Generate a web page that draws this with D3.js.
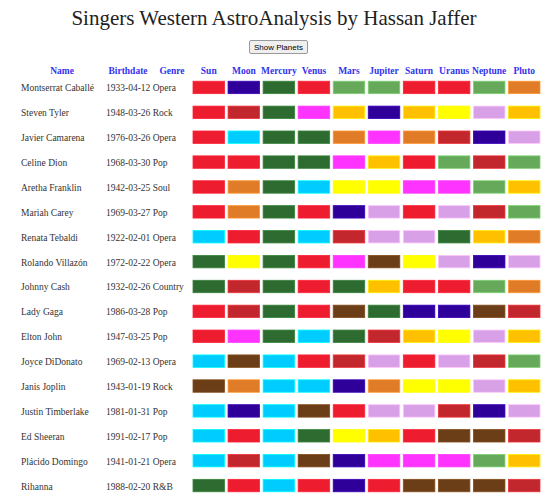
<!DOCTYPE html>
<html><head><meta charset="utf-8">
<script src="https://cdn.jsdelivr.net/npm/d3@7"></script>
<style>
body{margin:0;background:#fff;font-family:"Liberation Serif","Times New Roman",serif;}
#btn{position:absolute;left:249px;top:40px;font-family:"Liberation Sans",Arial,sans-serif;font-size:8px;padding:1px 4px;height:14px;border:1px solid #999;background:#efefef;border-radius:2px;}
svg{position:absolute;left:0;top:0}
</style></head><body>
<button id="btn">Show Planets</button>
<svg id="c" width="549" height="493"></svg>
<script>
const names=["Montserrat Caballé","Steven Tyler","Javier Camarena","Celine Dion","Aretha Franklin","Mariah Carey","Renata Tebaldi","Rolando Villazón","Johnny Cash","Lady Gaga","Elton John","Joyce DiDonato","Janis Joplin","Justin Timberlake","Ed Sheeran","Plácido Domingo","Rihanna"];
const birthdates=["1933-04-12","1948-03-26","1976-03-26","1968-03-30","1942-03-25","1969-03-27","1922-02-01","1972-02-22","1932-02-26","1986-03-28","1947-03-25","1969-02-13","1943-01-19","1981-01-31","1991-02-17","1941-01-21","1988-02-20"];
const genres=["Opera","Rock","Opera","Pop","Soul","Pop","Opera","Opera","Country","Pop","Pop","Opera","Rock","Pop","Pop","Opera","R&B"];
const planets=["Sun","Moon","Mercury","Venus","Mars","Jupiter","Saturn","Uranus","Neptune","Pluto"];
const signs=[
"R B G R LG LG R R LG O","R DR G M Gd B Gd Y L Gd","R C G G O M O DR B L","R R G G M Gd R LG DR LG",
"R O G C Y Y M M LG Gd","R O G R B L R L DR LG","C R G C DR L L G Gd O","G Y G R M Br Y L B L",
"G DR G R G Gd R R LG O","R DR G R Br G B B Br DR","R M G C G DR Gd Y L Gd","C Br C R DR L R L DR LG",
"Br O C C B O Y Y L Gd","C B C Br R L L DR B L","C R C G Y Gd R Br Br DR","C DR C Br B M M M LG Gd",
"G R C R B R Br Br Br DR"].map(s=>s.split(" "));
const codeKeys=["R","DR","G","LG","B","C","O","Y","Gd","M","L","Br"];
const codeColors=["#ed1c2e","#c1272d","#2e6b30","#66a95b","#2e0099","#00ccff","#e07b28","#ffff00","#ffc000","#ff33ff","#d8a0e6","#6b3e17"];
const color=d3.scaleOrdinal(codeKeys,codeColors);
const svg=d3.select("#c");
svg.append("text").attr("x",274).attr("y",25).attr("text-anchor","middle").attr("font-size",21).attr("fill","#222").text("Singers Western AstroAnalysis by Hassan Jaffer");
const x=d3.scaleBand().domain(planets).range([193,540]).paddingInner(0.1).paddingOuter(0);
const y=d3.scaleBand().domain(d3.range(names.length)).range([75,498]).paddingInner(0.5).paddingOuter(0.25);
const hy=74;
const hd=svg.append("g").attr("font-size",9.5).attr("font-weight","bold").attr("fill","#3333ee").attr("text-anchor","middle");
hd.append("text").attr("x",62).attr("y",hy).text("Name");
hd.append("text").attr("x",128).attr("y",hy).text("Birthdate");
hd.append("text").attr("x",172).attr("y",hy).text("Genre");
hd.selectAll(".p").data(planets).join("text").attr("x",d=>x(d)+x.bandwidth()/2).attr("y",hy).text(d=>d);
const rows=svg.selectAll(".row").data(names).join("g").attr("transform",(d,i)=>`translate(0,${y(i)})`);
const ty=y.bandwidth()/2+4;
rows.append("text").attr("x",21).attr("y",ty).attr("font-size",9.5).attr("fill","#333").text(d=>d);
rows.append("text").attr("x",106).attr("y",ty).attr("font-size",9.5).attr("fill","#333").text((d,i)=>birthdates[i]+" "+genres[i]);
rows.selectAll("rect").data((d,i)=>signs[i].map((c,j)=>({c,p:planets[j]}))).join("rect")
 .attr("x",d=>x(d.p)).attr("y",0).attr("width",x.bandwidth()).attr("height",y.bandwidth())
 .attr("fill",d=>color(d.c)).attr("stroke",d=>d3.color(color(d.c)).brighter(0.6)).attr("stroke-width",0.8);
</script></body></html>
